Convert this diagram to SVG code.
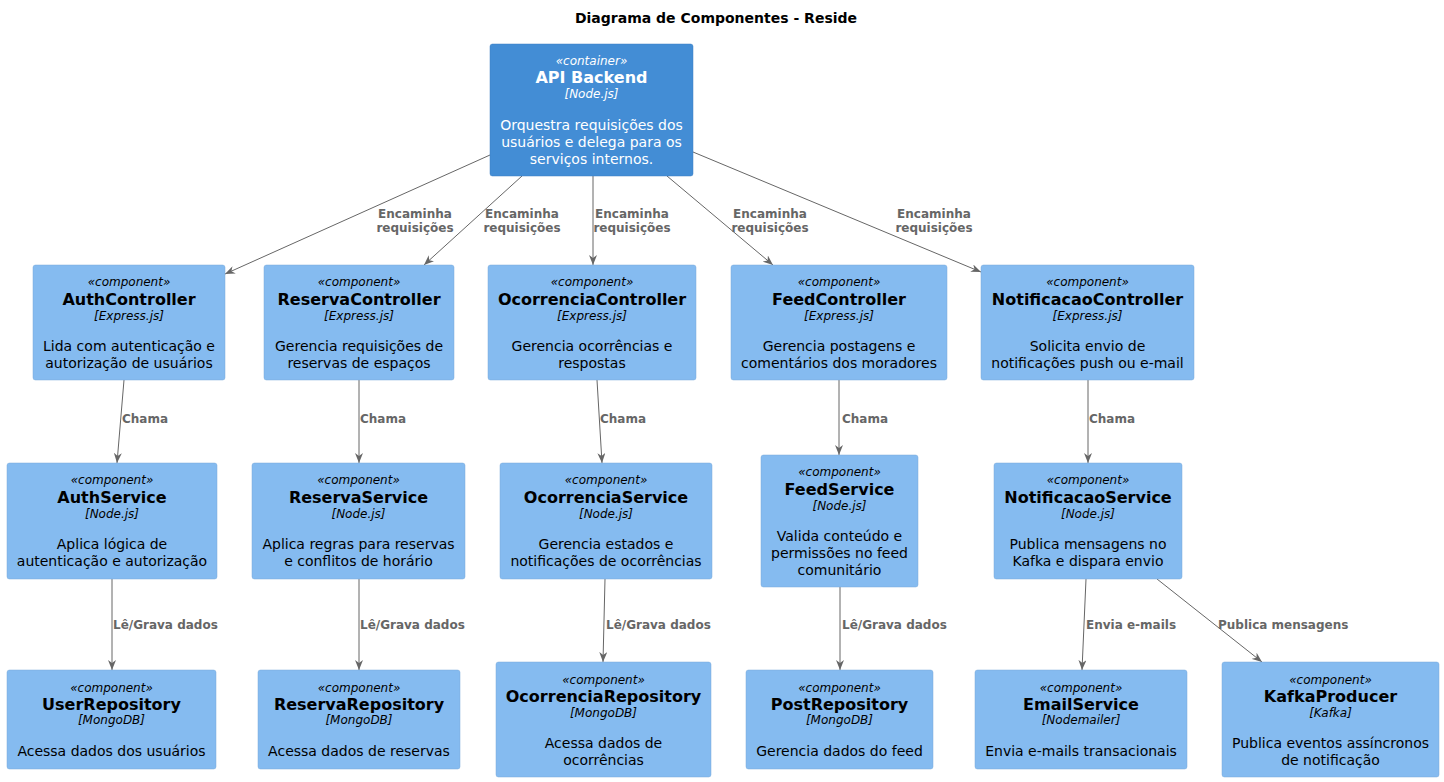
<svg xmlns="http://www.w3.org/2000/svg" width="1444" height="782" viewBox="0 0 1444 782">
<style>
text{font-family:"DejaVu Sans",Verdana,sans-serif;text-anchor:middle}
.title{font-size:14px;font-weight:bold;fill:#000}
.cont rect{fill:#438DD5;stroke:#3C7FC0;stroke-width:0.5}
.comp rect{fill:#85BBF0;stroke:#78A8D8;stroke-width:0.5}
.cont text{fill:#FFFFFF}
.comp text{fill:#000000}
.st{font-size:12px;font-style:italic}
.nm{font-size:16px;font-weight:bold}
.te{font-size:12px;font-style:italic}
.ds{font-size:14px}
.edges line{stroke:#666666;stroke-width:1;fill:none}
.lbl{font-size:12px;font-weight:bold;fill:#666666}
.ls{text-anchor:start}
</style>
<defs>
<marker id="ah" viewBox="0 0 10 8" refX="10" refY="4" markerWidth="10" markerHeight="8" markerUnits="userSpaceOnUse" orient="auto">
<path d="M0,0 L10,4 L0,8 L3,4 Z" fill="#666666"/>
</marker>
</defs>
<rect width="1444" height="782" fill="#FFFFFF"/>
<text class="title" x="716" y="23">Diagrama de Componentes - Reside</text>

<g class="edges">
<line x1="490" y1="155" x2="225" y2="274" marker-end="url(#ah)"/>
<line x1="522" y1="176" x2="424" y2="265" marker-end="url(#ah)"/>
<line x1="593" y1="176" x2="593" y2="265" marker-end="url(#ah)"/>
<line x1="667" y1="176" x2="773" y2="265" marker-end="url(#ah)"/>
<line x1="693" y1="152" x2="981" y2="272" marker-end="url(#ah)"/>
<line x1="124" y1="380" x2="117" y2="463" marker-end="url(#ah)"/>
<line x1="359" y1="380" x2="359" y2="463" marker-end="url(#ah)"/>
<line x1="597" y1="380" x2="602" y2="463" marker-end="url(#ah)"/>
<line x1="839" y1="380" x2="839" y2="455" marker-end="url(#ah)"/>
<line x1="1088" y1="380" x2="1088" y2="463" marker-end="url(#ah)"/>
<line x1="112" y1="579" x2="112" y2="670" marker-end="url(#ah)"/>
<line x1="359" y1="579" x2="359" y2="670" marker-end="url(#ah)"/>
<line x1="605" y1="579" x2="603" y2="662" marker-end="url(#ah)"/>
<line x1="840" y1="587" x2="840" y2="670" marker-end="url(#ah)"/>
<line x1="1086" y1="579" x2="1082" y2="670" marker-end="url(#ah)"/>
<line x1="1157" y1="579" x2="1262" y2="662" marker-end="url(#ah)"/>
<text class="lbl" x="415" y="218">Encaminha</text><text class="lbl" x="415" y="232">requisições</text>
<text class="lbl" x="522" y="218">Encaminha</text><text class="lbl" x="522" y="232">requisições</text>
<text class="lbl" x="632" y="218">Encaminha</text><text class="lbl" x="632" y="232">requisições</text>
<text class="lbl" x="770" y="218">Encaminha</text><text class="lbl" x="770" y="232">requisições</text>
<text class="lbl" x="934" y="218">Encaminha</text><text class="lbl" x="934" y="232">requisições</text>
<text class="lbl ls" x="122" y="423">Chama</text>
<text class="lbl ls" x="360" y="423">Chama</text>
<text class="lbl ls" x="600" y="423">Chama</text>
<text class="lbl ls" x="842" y="423">Chama</text>
<text class="lbl ls" x="1089" y="423">Chama</text>
<text class="lbl ls" x="113" y="629">Lê/Grava dados</text>
<text class="lbl ls" x="360" y="629">Lê/Grava dados</text>
<text class="lbl ls" x="606" y="629">Lê/Grava dados</text>
<text class="lbl ls" x="842" y="629">Lê/Grava dados</text>
<text class="lbl ls" x="1086" y="629">Envia e-mails</text>
<text class="lbl ls" x="1218" y="629">Publica mensagens</text>
</g>

<g id="api" class="cont">
<rect x="490" y="44" width="203" height="132" rx="2.5"/>
<text class="st" x="591.5" y="65">«container»</text>
<text class="nm" x="591.5" y="83">API Backend</text>
<text class="te" x="591.5" y="98">[Node.js]</text>
<text class="ds" x="591.5" y="130">Orquestra requisições dos</text>
<text class="ds" x="591.5" y="147">usuários e delega para os</text>
<text class="ds" x="591.5" y="164">serviços internos.</text>
</g>

<g id="authController" class="comp">
<rect x="33" y="265" width="192" height="115" rx="2.5"/>
<text class="st" x="129" y="286">«component»</text>
<text class="nm" x="129" y="305">AuthController</text>
<text class="te" x="129" y="320">[Express.js]</text>
<text class="ds" x="129" y="351">Lida com autenticação e</text>
<text class="ds" x="129" y="368">autorização de usuários</text>
</g>
<g id="reservaController" class="comp">
<rect x="264" y="265" width="190" height="115" rx="2.5"/>
<text class="st" x="359" y="286">«component»</text>
<text class="nm" x="359" y="305">ReservaController</text>
<text class="te" x="359" y="320">[Express.js]</text>
<text class="ds" x="359" y="351">Gerencia requisições de</text>
<text class="ds" x="359" y="368">reservas de espaços</text>
</g>
<g id="ocorrenciaController" class="comp">
<rect x="488" y="265" width="208" height="115" rx="2.5"/>
<text class="st" x="592" y="286">«component»</text>
<text class="nm" x="592" y="305">OcorrenciaController</text>
<text class="te" x="592" y="320">[Express.js]</text>
<text class="ds" x="592" y="351">Gerencia ocorrências e</text>
<text class="ds" x="592" y="368">respostas</text>
</g>
<g id="feedController" class="comp">
<rect x="731" y="265" width="216" height="115" rx="2.5"/>
<text class="st" x="839" y="286">«component»</text>
<text class="nm" x="839" y="305">FeedController</text>
<text class="te" x="839" y="320">[Express.js]</text>
<text class="ds" x="839" y="351">Gerencia postagens e</text>
<text class="ds" x="839" y="368">comentários dos moradores</text>
</g>
<g id="notificacaoController" class="comp">
<rect x="981" y="265" width="213" height="115" rx="2.5"/>
<text class="st" x="1087.5" y="286">«component»</text>
<text class="nm" x="1087.5" y="305">NotificacaoController</text>
<text class="te" x="1087.5" y="320">[Express.js]</text>
<text class="ds" x="1087.5" y="351">Solicita envio de</text>
<text class="ds" x="1087.5" y="368">notificações push ou e-mail</text>
</g>

<g id="authService" class="comp">
<rect x="7" y="463" width="210" height="116" rx="2.5"/>
<text class="st" x="112" y="484">«component»</text>
<text class="nm" x="112" y="503">AuthService</text>
<text class="te" x="112" y="518">[Node.js]</text>
<text class="ds" x="112" y="549">Aplica lógica de</text>
<text class="ds" x="112" y="566">autenticação e autorização</text>
</g>
<g id="reservaService" class="comp">
<rect x="252" y="463" width="213" height="116" rx="2.5"/>
<text class="st" x="358.5" y="484">«component»</text>
<text class="nm" x="358.5" y="503">ReservaService</text>
<text class="te" x="358.5" y="518">[Node.js]</text>
<text class="ds" x="358.5" y="549">Aplica regras para reservas</text>
<text class="ds" x="358.5" y="566">e conflitos de horário</text>
</g>
<g id="ocorrenciaService" class="comp">
<rect x="500" y="463" width="212" height="116" rx="2.5"/>
<text class="st" x="606" y="484">«component»</text>
<text class="nm" x="606" y="503">OcorrenciaService</text>
<text class="te" x="606" y="518">[Node.js]</text>
<text class="ds" x="606" y="549">Gerencia estados e</text>
<text class="ds" x="606" y="566">notificações de ocorrências</text>
</g>
<g id="feedService" class="comp">
<rect x="761" y="455" width="157" height="132" rx="2.5"/>
<text class="st" x="839.5" y="476">«component»</text>
<text class="nm" x="839.5" y="495">FeedService</text>
<text class="te" x="839.5" y="510">[Node.js]</text>
<text class="ds" x="839.5" y="541">Valida conteúdo e</text>
<text class="ds" x="839.5" y="558">permissões no feed</text>
<text class="ds" x="839.5" y="575">comunitário</text>
</g>
<g id="notificacaoService" class="comp">
<rect x="994" y="463" width="188" height="116" rx="2.5"/>
<text class="st" x="1088" y="484">«component»</text>
<text class="nm" x="1088" y="503">NotificacaoService</text>
<text class="te" x="1088" y="518">[Node.js]</text>
<text class="ds" x="1088" y="549">Publica mensagens no</text>
<text class="ds" x="1088" y="566">Kafka e dispara envio</text>
</g>

<g id="userRepository" class="comp">
<rect x="7" y="670" width="209" height="99" rx="2.5"/>
<text class="st" x="111.5" y="692">«component»</text>
<text class="nm" x="111.5" y="710">UserRepository</text>
<text class="te" x="111.5" y="724">[MongoDB]</text>
<text class="ds" x="111.5" y="756">Acessa dados dos usuários</text>
</g>
<g id="reservaRepository" class="comp">
<rect x="258" y="670" width="202" height="99" rx="2.5"/>
<text class="st" x="359" y="692">«component»</text>
<text class="nm" x="359" y="710">ReservaRepository</text>
<text class="te" x="359" y="724">[MongoDB]</text>
<text class="ds" x="359" y="756">Acessa dados de reservas</text>
</g>
<g id="ocorrenciaRepository" class="comp">
<rect x="496" y="662" width="215" height="115" rx="2.5"/>
<text class="st" x="603.5" y="684">«component»</text>
<text class="nm" x="603.5" y="702">OcorrenciaRepository</text>
<text class="te" x="603.5" y="717">[MongoDB]</text>
<text class="ds" x="603.5" y="748">Acessa dados de</text>
<text class="ds" x="603.5" y="765">ocorrências</text>
</g>
<g id="postRepository" class="comp">
<rect x="746" y="670" width="187" height="99" rx="2.5"/>
<text class="st" x="839.5" y="692">«component»</text>
<text class="nm" x="839.5" y="710">PostRepository</text>
<text class="te" x="839.5" y="724">[MongoDB]</text>
<text class="ds" x="839.5" y="756">Gerencia dados do feed</text>
</g>
<g id="emailService" class="comp">
<rect x="975" y="670" width="212" height="99" rx="2.5"/>
<text class="st" x="1081" y="692">«component»</text>
<text class="nm" x="1081" y="710">EmailService</text>
<text class="te" x="1081" y="724">[Nodemailer]</text>
<text class="ds" x="1081" y="756">Envia e-mails transacionais</text>
</g>
<g id="kafkaProducer" class="comp">
<rect x="1222" y="662" width="217" height="115" rx="2.5"/>
<text class="st" x="1330.5" y="684">«component»</text>
<text class="nm" x="1330.5" y="702">KafkaProducer</text>
<text class="te" x="1330.5" y="717">[Kafka]</text>
<text class="ds" x="1330.5" y="748">Publica eventos assíncronos</text>
<text class="ds" x="1330.5" y="765">de notificação</text>
</g>
</svg>
